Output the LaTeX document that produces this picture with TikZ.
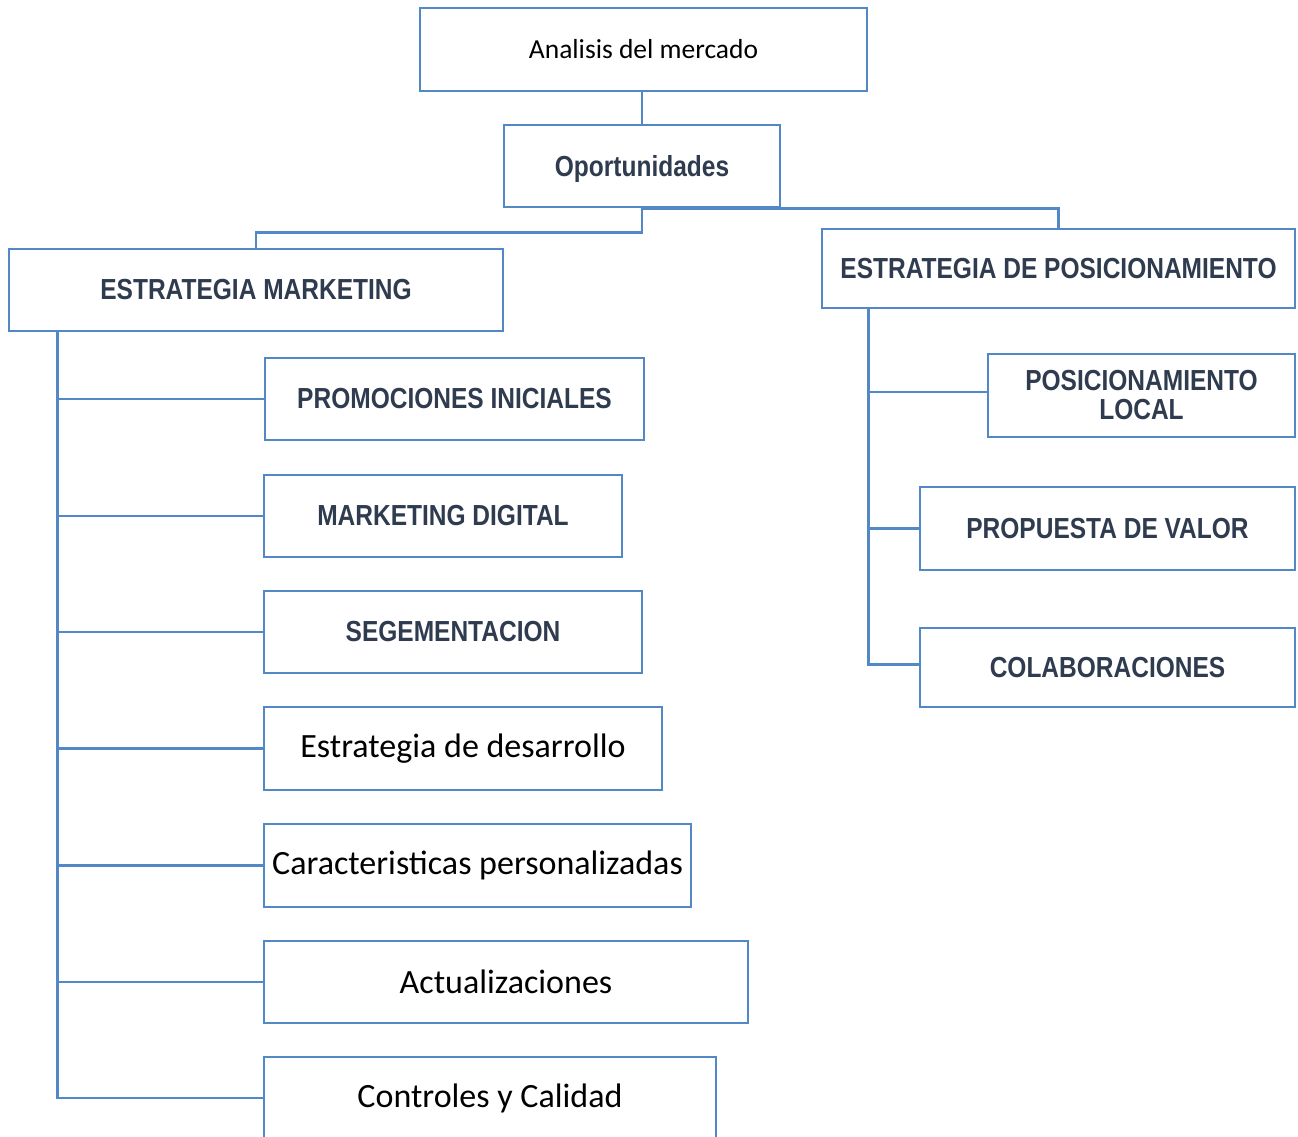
\documentclass[tikz,border=0pt]{standalone}
\usepackage{fontspec}
\setmainfont{Carlito}
\newfontfamily\bfcond{Liberation Sans}[FakeStretch=0.845]
\definecolor{lineblue}{HTML}{5288C5}
\definecolor{txtdark}{HTML}{2F3B4F}
\begin{document}
\begin{tikzpicture}[x=1pt,y=-1pt,
  box/.style={draw=lineblue, line width=2.8pt, fill=white, inner sep=0pt, align=center},
  capbox/.style={box, font=\bfcond\bfseries\fontsize{29}{31}\selectfont, text=txtdark},
  calbox/.style={box, font=\fontsize{34}{38}\selectfont, text=black},
  conn/.style={draw=lineblue, line width=2.8pt}]
\useasboundingbox (0,0) rectangle (1298,1136);
\clip (0,0) rectangle (1298,1136);
\fill[white] (0,0) rectangle (1298,1136);

\node[box, font=\fontsize{27.5}{30}\selectfont, minimum width=447pt, minimum height=83pt] (ana) at (643.5,49.5) {Analisis del mercado};
\node[capbox, minimum width=276pt, minimum height=82pt, text depth=0pt] (opo) at (642,166) {Oportunidades};
\node[capbox, minimum width=494pt, minimum height=82pt] (em) at (256,290) {ESTRATEGIA MARKETING};
\node[capbox, minimum width=473pt, minimum height=79pt] (ep) at (1058.5,268.5) {ESTRATEGIA DE POSICIONAMIENTO};

\node[capbox, minimum width=379pt, minimum height=82pt] (c1) at (454.5,399) {PROMOCIONES INICIALES};
\node[capbox, minimum width=358pt, minimum height=82pt] (c2) at (443,516) {MARKETING DIGITAL};
\node[capbox, minimum width=378pt, minimum height=82pt] (c3) at (453,632) {SEGEMENTACION};
\node[calbox, minimum width=398pt, minimum height=83pt] (c4) at (463,748.5) {Estrategia de desarrollo};
\node[calbox, minimum width=427pt, minimum height=83pt] (c5) at (477.5,865.5) {Caracteristicas personalizadas};
\node[calbox, minimum width=484pt, minimum height=82pt] (c6) at (506,982) {Actualizaciones};
\node[calbox, minimum width=452pt, minimum height=82pt] (c7) at (490,1098) {Controles y Calidad};

\node[capbox, minimum width=307pt, minimum height=83pt] (r1) at (1141.5,395.5) {POSICIONAMIENTO\\[-2pt]LOCAL};
\node[capbox, minimum width=375pt, minimum height=83pt] (r2) at (1107.5,528.5) {PROPUESTA DE VALOR};
\node[capbox, minimum width=375pt, minimum height=79pt] (r3) at (1107.5,667.5) {COLABORACIONES};

\coordinate (lt) at ([xshift=50pt]em.south west);
\coordinate (rt) at ([xshift=48pt]ep.south west);

\draw[conn] (opo.north |- ana.south) -- (opo.north);
\draw[conn] (opo.south) -- ++(0,24) -| (em.north);
\draw[conn] (opo.south) -| (ep.north);

\draw[conn] (lt) |- (c7.west);
\foreach \n in {c1,c2,c3,c4,c5,c6} \draw[conn] (\n.west) -- (\n.west -| lt);

\draw[conn] (rt) |- ([yshift=3pt]r3.west);
\draw[conn] ([yshift=3.5pt]r1.west) -- ([yshift=3.5pt]r1.west -| rt);
\draw[conn] (r2.west) -- (r2.west -| rt);
\end{tikzpicture}
\end{document}
